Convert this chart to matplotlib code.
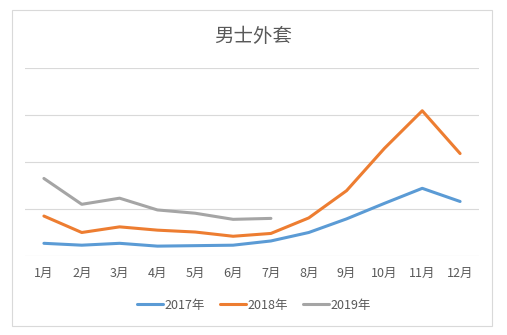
import matplotlib
matplotlib.use("Agg")
import matplotlib.pyplot as plt
from matplotlib.patches import Rectangle

plt.rcParams['font.family'] = ['Noto Sans CJK SC', 'DejaVu Sans']

# Data (relative units, no y scale shown)
months = ["1月", "2月", "3月", "4月", "5月", "6月", "7月", "8月", "9月", "10月", "11月", "12月"]
sales_2017 = [0.27, 0.23, 0.27, 0.21, 0.22, 0.23, 0.32, 0.50, 0.79, 1.12, 1.44, 1.16]
sales_2018 = [0.85, 0.50, 0.62, 0.55, 0.51, 0.42, 0.48, 0.81, 1.39, 2.29, 3.09, 2.18]
sales_2019 = [1.65, 1.10, 1.23, 0.98, 0.91, 0.78, 0.80]

TEXT = "#595959"
GRID = "#D9D9D9"

fig = plt.figure(figsize=(5.07, 3.35), dpi=100)
fig.patch.set_facecolor("white")

# chart area border
fig.patches.append(Rectangle((12 / 507, 9 / 335), 480 / 507, 316 / 335,
                             transform=fig.transFigure, fill=False,
                             edgecolor="#D9D9D9", linewidth=0.8))

ax = fig.add_axes([25 / 507, (335 - 256) / 335, 454 / 507, 188 / 335])

x = list(range(len(months)))
ax.plot(x, sales_2017, color="#5B9BD5", linewidth=2.2, label="2017年", solid_capstyle="round")
ax.plot(x, sales_2018, color="#ED7D31", linewidth=2.2, label="2018年", solid_capstyle="round")
ax.plot(x[:len(sales_2019)], sales_2019, color="#A5A5A5", linewidth=2.2, label="2019年",
        solid_capstyle="round")

ax.set_xlim(-0.5, 11.5)
ax.set_ylim(0, 4)
ax.set_yticks([0, 1, 2, 3, 4])
ax.yaxis.grid(True, color=GRID, linewidth=0.8)
ax.set_axisbelow(True)
ax.tick_params(axis="y", left=False, labelleft=False)
ax.set_xticks(x)
ax.set_xticklabels(months, color=TEXT, fontsize=9)
ax.tick_params(axis="x", length=0, pad=8)
for s in ax.spines.values():
    s.set_visible(False)

fig.text(0.5, (335 - 37) / 335, "男士外套", ha="center", va="center",
         fontsize=14, color=TEXT)

fig.legend(loc="center", bbox_to_anchor=(0.5, (335 - 305) / 335), ncol=3,
           frameon=False, fontsize=9, handlelength=2.1, handletextpad=0.1,
           columnspacing=1.2, labelcolor=TEXT)

fig.savefig("out.png", dpi=100)
